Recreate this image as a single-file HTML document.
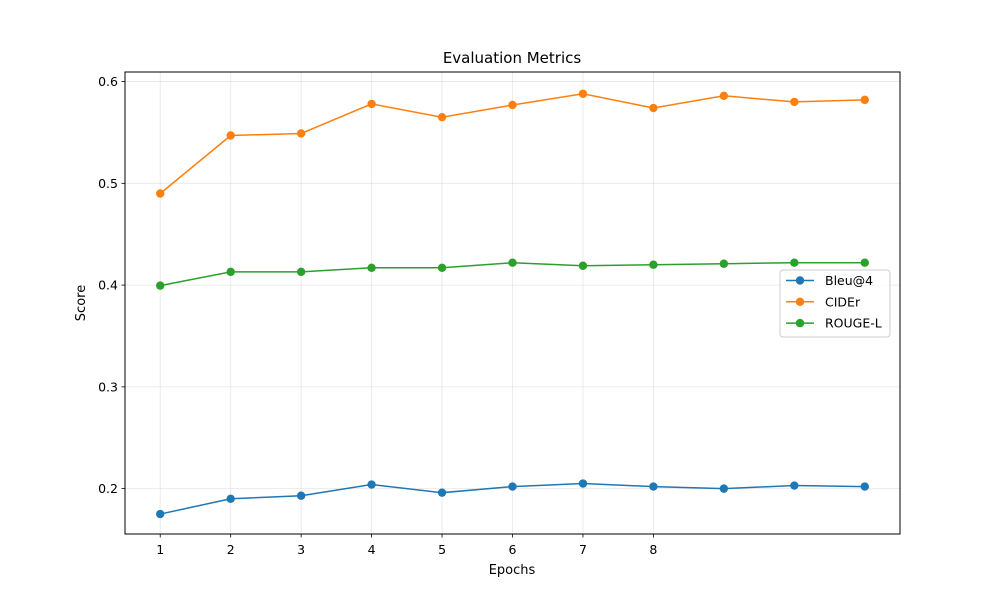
<!DOCTYPE html>
<html><head><meta charset="utf-8"><style>
body{margin:0;background:#fff;}
svg text{font-family:"DejaVu Sans","Liberation Sans",sans-serif;fill:#000;}
</style></head><body>
<svg id="chart" width="1000" height="600" xmlns="http://www.w3.org/2000/svg">
<rect width="1000" height="600" fill="#fff"/>
<g id="grid"></g>
<g id="axes"></g>
<g id="series"></g>
<text x="512" y="63" text-anchor="middle" font-size="15">Evaluation Metrics</text>
<text x="512" y="574" text-anchor="middle" font-size="13">Epochs</text>
<text x="0" y="0" transform="translate(85,303) rotate(-90)" text-anchor="middle" font-size="13">Score</text>
<g id="legend"></g>
</svg>
<script>
const epochs=[1,2,3,4,5,6,7,8,9,10,11];
const xTickLabels=[1,2,3,4,5,6,7,8];
const yTicks=[0.2,0.3,0.4,0.5,0.6];
const seriesNames=["Bleu@4","CIDEr","ROUGE-L"];
const bleu=[0.175,0.190,0.193,0.204,0.196,0.202,0.205,0.202,0.200,0.203,0.202];
const cider=[0.490,0.547,0.549,0.578,0.565,0.577,0.588,0.574,0.586,0.580,0.582];
const rouge=[0.3995,0.413,0.413,0.417,0.417,0.422,0.419,0.420,0.421,0.422,0.422];
const colors=["#1f77b4","#ff7f0e","#2ca02c"];
const L=125,R=900,T=72,B=534;
const xmin=0.5,xmax=11.5,ymin=0.1554,ymax=0.6094;
const x=v=>L+(v-xmin)/(xmax-xmin)*(R-L);
const y=v=>B-(v-ymin)/(ymax-ymin)*(B-T);
const NS="http://www.w3.org/2000/svg";
function mk(tag,attrs,parent){const e=document.createElementNS(NS,tag);for(const k in attrs)e.setAttribute(k,attrs[k]);parent.appendChild(e);return e;}
const grid=document.getElementById('grid'),axes=document.getElementById('axes'),ser=document.getElementById('series'),leg=document.getElementById('legend');
xTickLabels.forEach(t=>{
 const g=mk('line',{x1:x(t),x2:x(t),y1:T,y2:B,stroke:'#b0b0b0','stroke-opacity':0.3,'stroke-width':0.8},grid);
 
 const tk=mk('line',{x1:x(t),x2:x(t),y1:B,y2:B+3.5,stroke:'#000','stroke-width':0.8},axes);
 
 const tx=mk('text',{x:x(t),y:B+20,'text-anchor':'middle','font-size':12.5},axes);tx.textContent=t;
 
});
yTicks.forEach(t=>{
 const g=mk('line',{x1:L,x2:R,y1:y(t),y2:y(t),stroke:'#b0b0b0','stroke-opacity':0.3,'stroke-width':0.8},grid);
 
 const tk=mk('line',{x1:L-3.5,x2:L,y1:y(t),y2:y(t),stroke:'#000','stroke-width':0.8},axes);
 
 const tx=mk('text',{x:L-7,y:y(t)+4.5,'text-anchor':'end','font-size':12.5},axes);tx.textContent=t.toFixed(1);
 
});
const frame=mk('rect',{x:L,y:T,width:R-L,height:B-T,fill:'none',stroke:'#000','stroke-width':1},axes);

[bleu,cider,rouge].forEach((d,i)=>{
 const pts=d.map((v,j)=>x(epochs[j])+','+y(v)).join(' ');
 const pl=mk('polyline',{points:pts,fill:'none',stroke:colors[i],'stroke-width':1.5},ser);
 
 
 d.forEach((v,j)=>{const c=mk('circle',{cx:x(epochs[j]),cy:y(v),r:4.2,fill:colors[i]},ser);
  });
});
const lb=mk('rect',{x:780,y:270,width:110,height:67,rx:3,fill:'#fff','fill-opacity':0.8,stroke:'#ccc'},leg);

seriesNames.forEach((n,i)=>{
 const yy=280.5+i*21.3;
 const ln=mk('line',{x1:786,x2:814,y1:yy,y2:yy,stroke:colors[i],'stroke-width':1.5},leg);
 
 const c=mk('circle',{cx:800,cy:yy,r:4.2,fill:colors[i]},leg);
 
 const t=mk('text',{x:825,y:yy+4.5,'font-size':12.5},leg);t.textContent=n;
 
});
</script>
</body></html>
